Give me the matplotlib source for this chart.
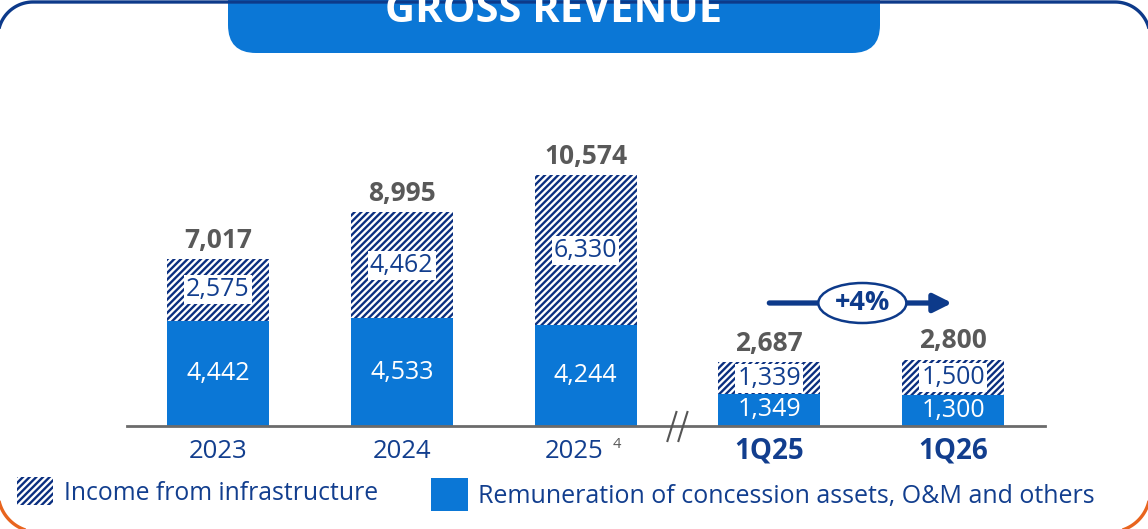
import matplotlib
matplotlib.use("Agg")
import matplotlib.pyplot as plt
from matplotlib.patches import FancyBboxPatch, Rectangle, Ellipse
import numpy as np

plt.rcParams['font.family'] = ['Open Sans', 'DejaVu Sans']
plt.rcParams['hatch.linewidth'] = 1.7

# ---------------- data ----------------
categories = ["2023", "2024", "2025", "1Q25", "1Q26"]
remuneration = [4442, 4533, 4244, 1349, 1300]
infrastructure = [2575, 4462, 6330, 1339, 1500]
totals = [7017, 8995, 10574, 2687, 2800]
bold_categories = [False, False, False, True, True]
footnotes = ["", "", "4", "", ""]
growth_label = "+4%"
legend_labels = ["Income from infrastructure",
                 "Remuneration of concession assets, O&M and others"]
title = "GROSS REVENUE"

BLUE = '#0B77D6'
NAVY = '#0D3A8A'
HATCH_COL = '#0A2F80'
TEXT_NAVY = '#123E8E'
GRAY = '#595959'
ORANGE = '#E8641E'
HATCH = '/////'

W, H = 1148, 529
fig = plt.figure(figsize=(W / 100, H / 100), dpi=100)

# background / decoration axes in pixel coordinates
bg = fig.add_axes([0, 0, 1, 1])
bg.set_xlim(0, W)
bg.set_ylim(H, 0)
bg.axis('off')


def arc(cx, cy, r, a0, a1, n=40):
    t = np.radians(np.linspace(a0, a1, n))
    return cx + r * np.cos(t), cy + r * np.sin(t)


# outer rounded border: blue top, orange bottom (y axis points down)
L, R, T, B = -2, 1150, 2, 532
rt, rb = 35, 40
xs1, ys1 = arc(L + rt, T + rt, rt, 180, 270)
xs2, ys2 = arc(R - rt, T + rt, rt, 270, 360)
bg.plot(np.r_[L, xs1, xs2, R], np.r_[T + rt + 40, ys1, ys2, T + rt + 40],
        color=NAVY, lw=2.4, solid_capstyle='butt')
xs3, ys3 = arc(L + rb, B - rb, rb, 180, 90)
xs4, ys4 = arc(R - rb, B - rb, rb, 90, 0)
bg.plot(np.r_[L, xs3, xs4, R], np.r_[B - rb - 40, ys3, ys4, B - rb - 40],
        color=ORANGE, lw=2.4, solid_capstyle='butt')

# title banner
banner = FancyBboxPatch((228 + 28, -60), 880 - 228 - 56, 53 + 60 - 28,
                        boxstyle="round,pad=28", fc=BLUE, ec='none')
bg.add_patch(banner)
bg.text(554, 22, title, color='white', fontsize=30, fontweight='bold',
        ha='center', va='baseline')

# legend
hp = Rectangle((17, 477), 36, 28, fc='white', ec=HATCH_COL, hatch=HATCH, lw=0)
bg.add_patch(hp)
bg.text(64, 494, legend_labels[0], color=TEXT_NAVY, fontsize=17.8,
        ha='left', va='center')
bg.add_patch(Rectangle((431, 478), 37, 33, fc=BLUE, ec='none'))
bg.text(478, 496, legend_labels[1], color=TEXT_NAVY, fontsize=18,
        ha='left', va='center')

# ---------------- main chart ----------------
scale = 251 / 10574.0  # px per unit
ax_left, ax_right, base_px, top_px = 127, 1045, 426, 100
ax = fig.add_axes([ax_left / W, (H - base_px) / H,
                   (ax_right - ax_left) / W, (base_px - top_px) / H])
ax.set_xlim(-0.495, 4.5)
ax.set_ylim(0, (base_px - top_px) / scale)
ax.patch.set_alpha(0)
for s in ax.spines.values():
    s.set_visible(False)
ax.set_yticks([])
ax.set_xticks([])

x = list(range(len(categories)))
width = 0.555
ax.bar(x, remuneration, width=width, color=BLUE, edgecolor='none', zorder=2)
ax.bar(x, infrastructure, width=width, bottom=remuneration, color='white',
       edgecolor=HATCH_COL, hatch=HATCH, linewidth=0, zorder=2)

# baseline
ax.axhline(0, color='#6b6b6b', lw=2, zorder=3, clip_on=False)

for i in x:
    ax.text(i, remuneration[i] / 2, f"{remuneration[i]:,}", color='white',
            fontsize=18, ha='center', va='center', zorder=4)
    ax.text(i, remuneration[i] + infrastructure[i] / 2, f"{infrastructure[i]:,}",
            color=TEXT_NAVY, fontsize=18, ha='center', va='center', zorder=4,
            bbox=dict(boxstyle='square,pad=0.08', fc='white', ec='none'))
    ax.annotate(f"{totals[i]:,}", (i, totals[i]), xytext=(0, 13.5),
                textcoords='offset points', ha='center', va='center',
                fontsize=19, fontweight='bold', color=GRAY, zorder=4)
    shift = -8 if footnotes[i] else 0
    ax.annotate(categories[i], (i, 0), xytext=(shift, -18),
                textcoords='offset points', ha='center', va='center',
                fontsize=20 if bold_categories[i] else 18.5, color=TEXT_NAVY,
                fontweight='bold' if bold_categories[i] else 'normal',
                annotation_clip=False)
    if footnotes[i]:
        ax.annotate(footnotes[i], (i, 0), xytext=(22.3, -13.5),
                    textcoords='offset points', ha='center', va='center',
                    fontsize=10.5, color=GRAY, annotation_clip=False)

# axis break marks
px = 1 / 183.75
for x0 in (-10, 1):
    ax.plot([2.5 + x0 * px, 2.5 + (x0 + 9) * px],
            [-15 / scale, 14 / scale], color='#555555', lw=1.5,
            clip_on=False, zorder=5)

# growth arrow
y_arrow = (base_px - 303) / scale
ax.annotate("", xy=(4.0 - 1 * px, y_arrow), xytext=(3.0, y_arrow),
            arrowprops=dict(arrowstyle='-|>,head_length=1.1,head_width=0.55',
                            color=NAVY, lw=3.8, shrinkA=0, shrinkB=0),
            zorder=5, annotation_clip=False)
xm = 3.0 + (862 - 769) * px
ell = Ellipse((xm, y_arrow), width=88 * px, height=40 / scale,
              fc='white', ec=NAVY, lw=1.8, zorder=6, clip_on=False)
ax.add_patch(ell)
ax.text(xm, y_arrow, growth_label, color=NAVY, fontsize=19.5,
        fontweight='bold', ha='center', va='center', zorder=7)

fig.savefig("out.png", dpi=100)
